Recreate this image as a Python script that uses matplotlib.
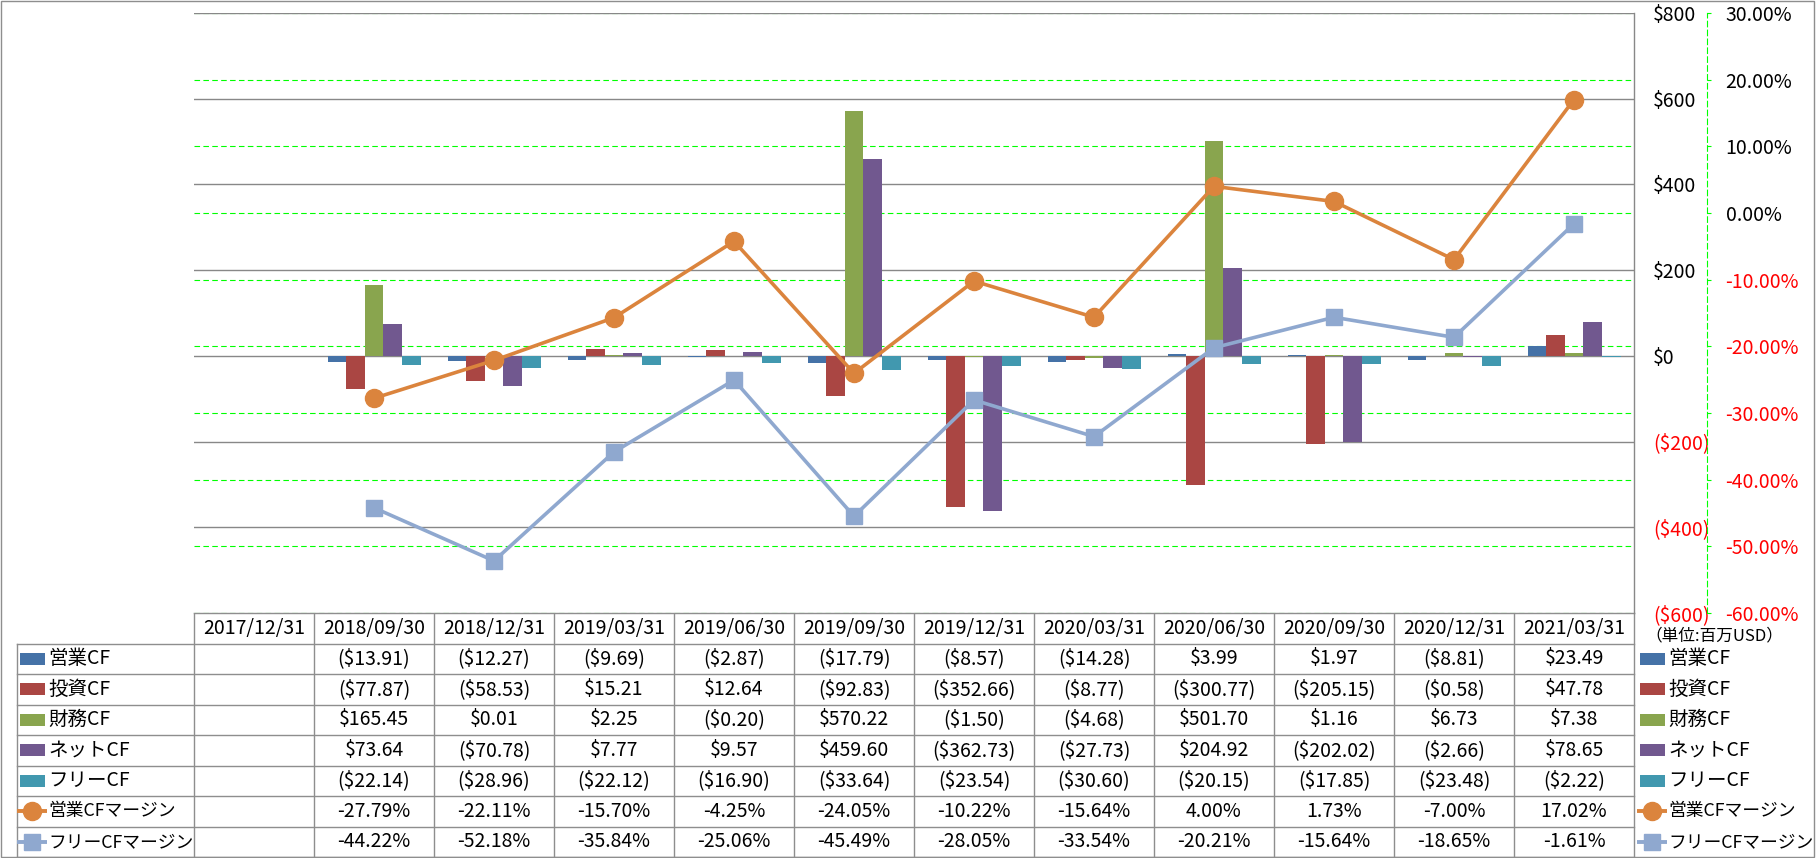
import numpy as np
import matplotlib
matplotlib.use("Agg")
import matplotlib.pyplot as plt
from matplotlib.patches import Rectangle

plt.rcParams['font.family'] = ['Noto Sans CJK JP', 'DejaVu Sans']

# ---------------- data ----------------
categories = ["2017/12/31", "2018/09/30", "2018/12/31", "2019/03/31", "2019/06/30",
              "2019/09/30", "2019/12/31", "2020/03/31", "2020/06/30", "2020/09/30",
              "2020/12/31", "2021/03/31"]
nan = np.nan
op_cf   = [nan, -13.91, -12.27, -9.69, -2.87, -17.79, -8.57, -14.28, 3.99, 1.97, -8.81, 23.49]
inv_cf  = [nan, -77.87, -58.53, 15.21, 12.64, -92.83, -352.66, -8.77, -300.77, -205.15, -0.58, 47.78]
fin_cf  = [nan, 165.45, 0.01, 2.25, -0.20, 570.22, -1.50, -4.68, 501.70, 1.16, 6.73, 7.38]
net_cf  = [nan, 73.64, -70.78, 7.77, 9.57, 459.60, -362.73, -27.73, 204.92, -202.02, -2.66, 78.65]
free_cf = [nan, -22.14, -28.96, -22.12, -16.90, -33.64, -23.54, -30.60, -20.15, -17.85, -23.48, -2.22]
op_margin   = [nan, -27.79, -22.11, -15.70, -4.25, -24.05, -10.22, -15.64, 4.00, 1.73, -7.00, 17.02]
free_margin = [nan, -44.22, -52.18, -35.84, -25.06, -45.49, -28.05, -33.54, -20.21, -15.64, -18.65, -1.61]

bar_names = ["営業CF", "投資CF", "財務CF", "ネットCF", "フリーCF"]
line_names = ["営業CFマージン", "フリーCFマージン"]
unit_label = "（単位:百万USD）"

primary_ticks = [-600, -400, -200, 0, 200, 400, 600, 800]
secondary_ticks = [-60, -50, -40, -30, -20, -10, 0, 10, 20, 30]

bar_series = [op_cf, inv_cf, fin_cf, net_cf, free_cf]
bar_colors = ["#4572A7", "#AA4643", "#89A54E", "#71588F", "#4198AF"]
line_series = [op_margin, free_margin]
line_colors = ["#DB843D", "#8FA8CF"]
line_markers = ["o", "s"]

# ---------------- layout (pixels) ----------------
W, H = 1817, 858
PL, PT, PR, PB = 194, 13, 1634, 613
ROW_H = 30.5
FS = 14
GRID_GRAY = "#888888"
TABLE_GRAY = "#8E8E8E"
LIME = "#00FF00"

fig = plt.figure(figsize=(W / 100, H / 100), dpi=100)
fig.patch.set_facecolor("white")


def px_rect(l, t, r, b):
    return [l / W, 1 - b / H, (r - l) / W, (b - t) / H]


rect = px_rect(PL, PT, PR, PB)
n = len(categories)
x = np.arange(n)

# overlay for table
axt = fig.add_axes([0, 0, 1, 1], zorder=0)
axt.set_xlim(0, W)
axt.set_ylim(H, 0)
axt.axis("off")
axt.patch.set_visible(False)

# secondary gridlines (behind bars)
axg = fig.add_axes(rect, zorder=1)
axg.set_xlim(-0.5, n - 0.5)
axg.set_ylim(secondary_ticks[0], secondary_ticks[-1])
axg.set_yticks(secondary_ticks)
axg.set_xticks([])
axg.grid(axis="y", color=LIME, lw=0.8, ls=(0, (5, 3)))
axg.tick_params(axis="y", left=False, right=False, labelleft=False)
for s in axg.spines.values():
    s.set_visible(False)

# bars
ax = fig.add_axes(rect, zorder=2)
ax.patch.set_visible(False)
ax.set_xlim(-0.5, n - 0.5)
ax.set_ylim(primary_ticks[0], primary_ticks[-1])
ax.set_axisbelow(True)
ax.grid(axis="y", color=GRID_GRAY, lw=1.0)
bw = 0.155
for i, (vals, col) in enumerate(zip(bar_series, bar_colors)):
    v = np.array(vals, dtype=float)
    m = ~np.isnan(v)
    ax.bar(x[m] + (i - 2) * bw, v[m], width=bw, color=col, zorder=2)
ax.set_xticks([])

# lines on secondary axis
ax2 = ax.twinx()
ax2.set_zorder(3)
ax2.patch.set_visible(False)
ax2.set_ylim(secondary_ticks[0], secondary_ticks[-1])
for vals, col, mk in zip(line_series, line_colors, line_markers):
    ax2.plot(x, vals, color=col, lw=2.6, marker=mk,
             markersize=13 if mk == "o" else 12,
             markerfacecolor=col, markeredgecolor=col, zorder=4)


def money_tick(t):
    if t < 0:
        return "(${:,.0f})".format(-t)
    return "${:,.0f}".format(t)


# primary axis on the right
ax.set_yticks(primary_ticks, labels=[money_tick(t) for t in primary_ticks])
ax.yaxis.tick_right()
ax.tick_params(axis="y", left=False, right=False, labelleft=False, labelright=True,
               length=0, pad=13.7, labelsize=FS)
for k in ["top", "left", "bottom"]:
    ax.spines[k].set_visible(False)
ax.spines["right"].set_color(GRID_GRAY)
ax.spines["right"].set_linewidth(1.0)

ax2.set_yticks(secondary_ticks, labels=["{:.2f}%".format(t) for t in secondary_ticks])
ax2.tick_params(axis="y", direction="out", length=2.9, width=0.8, color=LIME,
                pad=10.5, labelsize=FS)
for k in ["top", "left", "bottom"]:
    ax2.spines[k].set_visible(False)
ax2.spines["right"].set_position(("outward", (1707 - PR) * 0.72))
ax2.spines["right"].set_color(LIME)
ax2.spines["right"].set_linestyle((0, (5, 3)))
ax2.spines["right"].set_linewidth(0.8)

fig.canvas.draw()
for axis_obj, ticks in [(ax.yaxis, primary_ticks), (ax2.yaxis, secondary_ticks)]:
    for tk, t in zip(axis_obj.get_major_ticks(), ticks):
        c = "red" if t < 0 else "black"
        tk.label1.set_color(c)
        tk.label2.set_color(c)

# ---------------- data table ----------------
cw = (PR - PL) / n
col_x = [PL + k * cw for k in range(n + 1)]
row_top = [PB + k * ROW_H for k in range(9)]
TL = 17
bottom = row_top[-1]

axt.plot([PL, PR], [PB, PB], color=TABLE_GRAY, lw=1.0)
for k in range(1, 9):
    axt.plot([TL, PR], [row_top[k], row_top[k]], color=TABLE_GRAY, lw=1.0)
for cx in col_x:
    axt.plot([cx, cx], [PB, bottom], color=TABLE_GRAY, lw=1.0)
axt.plot([TL, TL], [row_top[1], bottom], color=TABLE_GRAY, lw=1.0)
axt.add_patch(Rectangle((0.5, 0.5), 1813, 856.5, fill=False, edgecolor=TABLE_GRAY, lw=1.0))

hy = (row_top[0] + row_top[1]) / 2
for i, c in enumerate(categories):
    axt.text((col_x[i] + col_x[i + 1]) / 2, hy, c, ha="center", va="center", fontsize=FS)


def money(v):
    if np.isnan(v):
        return ""
    if v < 0:
        return "(${:,.2f})".format(-v)
    return "${:,.2f}".format(v)


def pct(v):
    if np.isnan(v):
        return ""
    return "{:.2f}%".format(v)


all_rows = [(nm, vals, col, None, money, 14) for nm, vals, col in zip(bar_names, bar_series, bar_colors)]
all_rows += [(nm, vals, col, mk, pct, 12.8) for nm, vals, col, mk in zip(line_names, line_series, line_colors, line_markers)]


def legend_key(xl, yc, col, mk):
    if mk is None:
        axt.add_patch(Rectangle((xl + 3, yc - 6), 25, 12, color=col, lw=0))
    else:
        axt.plot([xl, xl + 30], [yc, yc], color=col, lw=2.8, solid_capstyle="butt")
        axt.plot([xl + 15], [yc], marker=mk, color=col, markersize=13 if mk == "o" else 12)


for r, (nm, vals, col, mk, fmt, lfs) in enumerate(all_rows):
    yc = (row_top[r + 1] + row_top[r + 2]) / 2
    legend_key(TL, yc, col, mk)
    axt.text(48, yc, nm, ha="left", va="center", fontsize=lfs)
    for i, v in enumerate(vals):
        axt.text((col_x[i] + col_x[i + 1]) / 2, yc, fmt(float(v)),
                 ha="center", va="center", fontsize=FS)
    legend_key(1637, yc, col, mk)
    axt.text(1668, yc, nm, ha="left", va="center", fontsize=lfs)

axt.text(1645, 636, unit_label, ha="left", va="center", fontsize=12)

fig.savefig("out.png", dpi=100, facecolor="white")
